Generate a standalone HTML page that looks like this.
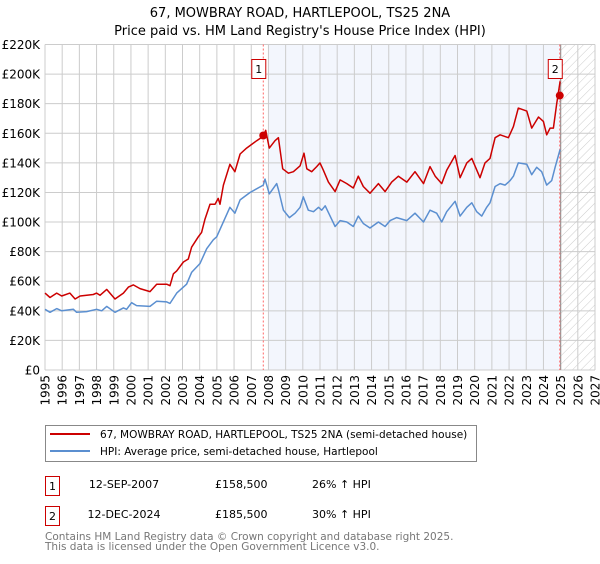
<!DOCTYPE html>
<html><head><meta charset="utf-8"><style>
body{margin:0;background:#fff;font-family:"DejaVu Sans","Liberation Sans",sans-serif;}
svg text{font-family:"DejaVu Sans","Liberation Sans",sans-serif;}
</style></head><body>
<svg id="c" width="600" height="560" xmlns="http://www.w3.org/2000/svg">
<defs><pattern id="hatch" width="6" height="6" patternUnits="userSpaceOnUse" patternTransform="rotate(45)"><line x1="0" y1="0" x2="0" y2="6" stroke="#ccc" stroke-width="1"/></pattern></defs>
<text x="300" y="17" text-anchor="middle" font-size="13">67, MOWBRAY ROAD, HARTLEPOOL, TS25 2NA</text>
<text x="300" y="35" text-anchor="middle" font-size="13">Price paid vs. HM Land Registry's House Price Index (HPI)</text>
<g id="plot"></g>
<g>
<rect x="45.5" y="425.5" width="431" height="36" fill="#fff" stroke="#888"/>
<line x1="50" y1="434" x2="90" y2="434" stroke="#cc0000" stroke-width="2"/>
<text x="100" y="438" font-size="10.5">67, MOWBRAY ROAD, HARTLEPOOL, TS25 2NA (semi-detached house)</text>
<line x1="50" y1="451" x2="90" y2="451" stroke="#5b8fd0" stroke-width="2"/>
<text x="100" y="455" font-size="10.5">HPI: Average price, semi-detached house, Hartlepool</text>
</g>
<g font-size="11">
<rect x="45.5" y="476.5" width="14" height="19" fill="#fff" stroke="#cc0000"/>
<text x="52.5" y="490" text-anchor="middle">1</text>
<text x="124" y="488" text-anchor="middle">12-SEP-2007</text>
<text x="215" y="488">£158,500</text>
<text x="312" y="488">26% ↑ HPI</text>
<rect x="45.5" y="506.5" width="14" height="19" fill="#fff" stroke="#cc0000"/>
<text x="52.5" y="520" text-anchor="middle">2</text>
<text x="124" y="518" text-anchor="middle">12-DEC-2024</text>
<text x="215" y="518">£185,500</text>
<text x="312" y="518">30% ↑ HPI</text>
</g>
<text x="45" y="540" font-size="10.5" fill="#777">Contains HM Land Registry data © Crown copyright and database right 2025.</text>
<text x="45" y="550" font-size="10.5" fill="#777">This data is licensed under the Open Government Licence v3.0.</text>
</svg>
<script>
const yTicks=[0,20,40,60,80,100,120,140,160,180,200,220];
const xYears=[1995,1996,1997,1998,1999,2000,2001,2002,2003,2004,2005,2006,2007,2008,2009,2010,2011,2012,2013,2014,2015,2016,2017,2018,2019,2020,2021,2022,2023,2024,2025,2026,2027];
const hpiYears=[1995.0,1995.29,1995.68,1995.97,1996.65,1996.84,1997.42,1998.0,1998.3,1998.59,1999.07,1999.56,1999.75,2000.04,2000.33,2001.11,2001.5,2002.08,2002.27,2002.66,2003.24,2003.53,2004.02,2004.41,2004.79,2004.99,2005.76,2006.05,2006.35,2006.93,2007.7,2007.8,2008.05,2008.48,2008.58,2008.87,2009.22,2009.55,2009.84,2010.03,2010.32,2010.62,2010.91,2011.1,2011.3,2011.59,2011.88,2012.17,2012.56,2012.94,2013.23,2013.52,2013.91,2014.4,2014.79,2015.08,2015.46,2016.05,2016.53,2017.02,2017.4,2017.79,2018.08,2018.37,2018.86,2019.15,2019.54,2019.83,2020.12,2020.41,2020.7,2020.89,2021.19,2021.48,2021.77,2022.06,2022.25,2022.54,2023.03,2023.32,2023.61,2023.9,2024.19,2024.48,2024.68,2024.97];
const hpiValues=[41,39,41.5,40,41,39,39.5,41,40,43,39,42,41,45.5,43.5,43,46.5,46,45,52,58,66,72,82,88,90,110,106,115,120,125,129,119,126,122,108,103,106,110,117,108,107,110,108,111,104,97,101,100,97,104,99,96,100,97,101,103,101,106,100,108,106,100,107,114,104,110,113,107,104,110,113,124,126,125,128,131,140,139,132,137,134,125,128,137,149];
const propYears=[1995.0,1995.29,1995.68,1995.97,1996.45,1996.75,1997.04,1997.81,1998.0,1998.2,1998.59,1999.07,1999.56,1999.85,2000.14,2000.53,2001.11,2001.5,2002.08,2002.27,2002.47,2002.66,2003.05,2003.34,2003.53,2003.92,2004.11,2004.31,2004.6,2004.89,2005.08,2005.18,2005.38,2005.76,2006.05,2006.35,2006.73,2007.32,2007.7,2007.84,2008.05,2008.38,2008.58,2008.83,2009.16,2009.45,2009.84,2010.07,2010.23,2010.52,2010.81,2011.0,2011.2,2011.49,2011.88,2012.17,2012.56,2012.94,2013.23,2013.52,2013.91,2014.4,2014.79,2015.17,2015.56,2016.05,2016.53,2017.02,2017.4,2017.7,2018.08,2018.37,2018.86,2019.15,2019.54,2019.83,2020.31,2020.6,2020.89,2021.19,2021.48,2021.96,2022.25,2022.54,2023.03,2023.32,2023.71,2024.0,2024.19,2024.39,2024.58,2024.77,2024.97];
const propValues=[52,49,52,50,52,48,50,51,52,50.5,54.5,48,52,56,57.5,55,53,58,58,57,65,67,73,75,83,90,93,102,112,112,116,112,125,139,134,146,150,155,158,162,150,155,157,136,133,134,138,146.5,136,134,137.5,140,135,127,120.6,128.5,126,123,131,124,119.5,126,120.6,127,131,127,134,126,137.5,131,126,135,145,130,140,143,130,140,143,157,159,157,164.5,177,175,163.5,171,168,159,163.5,163.5,180,195];
const sales=[{n:"1",year:2007.7,value:158.5},{n:"2",year:2024.95,value:185.5}];
const X0=45,X1=595,Y0=370,Ytop=44.5;
const xs=y=>X0+(y-1995)*(X1-X0)/32;
const ys=v=>Y0-v*(Y0-Ytop)/220;
const NS="http://www.w3.org/2000/svg";
const g=document.getElementById('plot');
function mk(t,a){const e=document.createElementNS(NS,t);for(const k in a)e.setAttribute(k,a[k]);g.appendChild(e);return e;}
let r=mk('rect',{x:xs(2008),y:Ytop,width:xs(2025)-xs(2008),height:Y0-Ytop,fill:'#eef2fc',opacity:0.7});


r=mk('rect',{x:xs(2025),y:Ytop,width:xs(2027)-xs(2025),height:Y0-Ytop,fill:'url(#hatch)'});


yTicks.forEach(v=>{
 const l=mk('line',{x1:X0,x2:X1,y1:ys(v),y2:ys(v),stroke:'#cccccc','stroke-width':1});
 
 
 const t=mk('text',{x:40,y:ys(v)+4.5,'text-anchor':'end','font-size':12});
 t.textContent=v===0?'£0':'£'+v+'K';
 
 
});
xYears.forEach(yr=>{
 const l=mk('line',{x1:xs(yr),x2:xs(yr),y1:Ytop,y2:Y0,stroke:'#cccccc','stroke-width':1});
 
 
 const t=mk('text',{x:0,y:0,'text-anchor':'end','font-size':12,transform:`translate(${xs(yr)+4.5},375) rotate(-90)`});
 t.textContent=yr;
 
 
});
let v=mk('line',{x1:xs(2025),x2:xs(2025),y1:Ytop,y2:Y0,stroke:'#999','stroke-width':1.2});


sales.forEach(s=>{
 const l=mk('line',{x1:xs(s.year),x2:xs(s.year),y1:Ytop,y2:Y0,stroke:'#ff6666','stroke-width':1,'stroke-dasharray':'2,2'});
 
 
});
const pts=(ya,va)=>ya.map((y,i)=>xs(y).toFixed(1)+','+ys(va[i]).toFixed(1)).join(' ');
let p=mk('polyline',{points:pts(hpiYears,hpiValues),fill:'none',stroke:'#5b8fd0','stroke-width':1.5,'stroke-linejoin':'round'});


p=mk('polyline',{points:pts(propYears,propValues),fill:'none',stroke:'#cc0000','stroke-width':1.5,'stroke-linejoin':'round'});


sales.forEach(s=>{
 const c=mk('circle',{cx:xs(s.year),cy:ys(s.value),r:4,fill:'#cc0000'});
 
 
 const b=mk('rect',{x:xs(s.year)-11.5,y:59.5,width:14,height:19,fill:'#fff',stroke:'#cc0000'});
 
 
 const t=mk('text',{x:xs(s.year)-4.5,y:73,'text-anchor':'middle','font-size':11});
 t.textContent=s.n;
 
 
});
</script>
</body></html>
